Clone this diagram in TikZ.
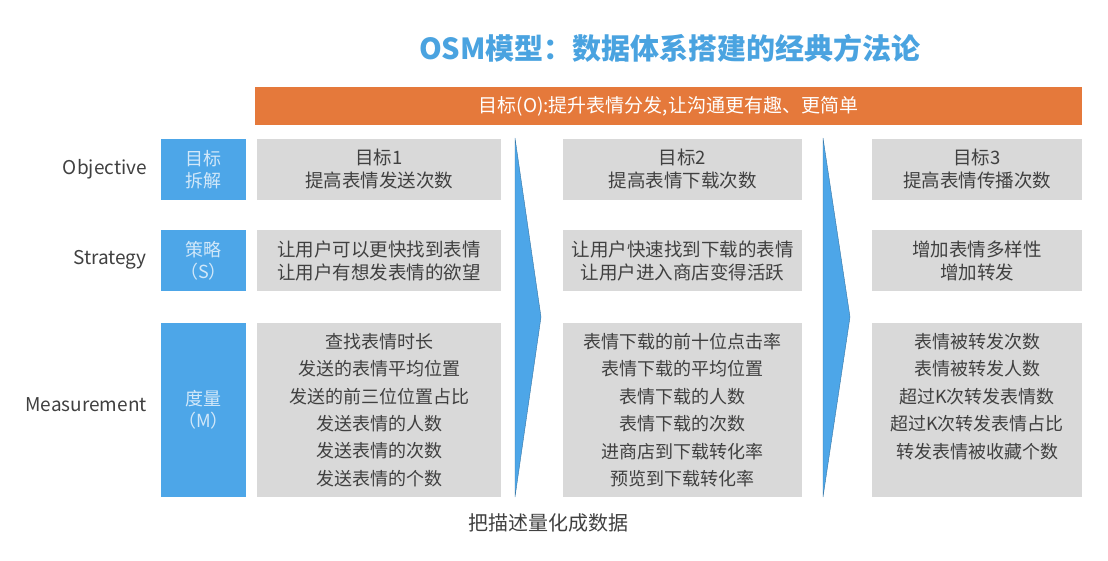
\documentclass[tikz,border=0pt]{standalone}
\usepackage{fontspec}
\setmainfont{Noto Sans CJK SC}
\usetikzlibrary{positioning}

\definecolor{titleblue}{HTML}{4AA3E0}
\definecolor{labelblue}{HTML}{4DA6E8}
\definecolor{paleblue}{HTML}{D2E8F9}
\definecolor{barorange}{HTML}{E5793B}
\definecolor{cellgray}{HTML}{D9D9D9}
\definecolor{textgray}{HTML}{404040}

\begin{document}
\begin{tikzpicture}[x=1pt, y=-1pt,
    sidebox/.style={fill=labelblue, text=paleblue, align=center, inner sep=0pt,
      minimum width=85pt, font=\fontsize{18}{22}\selectfont},
    cell/.style={fill=cellgray, text=textgray, align=center, inner sep=0pt,
      font=\fontsize{18.5}{23}\selectfont},
    mlines/.style={text=textgray, align=center, inner sep=0pt, anchor=north,
      font=\fontsize{18}{27.4}\selectfont},
    rowname/.style={text=textgray, anchor=east, inner sep=0pt,
      font=\fontsize{19}{22}\selectfont},
    flow/.style={fill=labelblue, draw=labelblue!70!black, line width=0.4pt}]
        \useasboundingbox (0,0) rectangle (1108,560);

        \node[text=titleblue, font=\fontsize{29}{34}\selectfont\bfseries] (title) at (670,48) {OSM模型：数据体系搭建的经典方法论};

        \node[fill=barorange, text=white, minimum width=827pt, minimum height=38pt, inner sep=0pt,
          font=\fontsize{19}{22}\selectfont] (goal) at (668.5,106) {目标(O):提升表情分发,让沟通更有趣、更简单};

        % row names
        \node[rowname] (objective) at (147,169) {Objective};
        \node[rowname] (strategy) at (147,260) {Strategy};
        \node[rowname] (measurement) at (147,405) {Measurement};

        % blue labels
        \node[sidebox, minimum height=61pt] (oblabel) at (203.5,169.5) {目标\\拆解};
        \node[sidebox, minimum height=61pt] (stlabel) at (203.5,260.5) {策略\\（S）};
        \node[sidebox, minimum height=174pt] (melabel) at (203.5,410) {度量\\（M）};

        % flow arrows
        \draw[flow] (515,138) -- (541,317) -- (515,497) -- cycle;
        \draw[flow] (823,138) -- (850,317) -- (823,497) -- cycle;

        % column 1
        \node[cell, minimum width=244pt, minimum height=61pt] (ob1) at (379,169.5) {目标1\\提高表情发送次数};
        \node[cell, minimum width=244pt, minimum height=61pt] (st1) at (379,260.5) {让用户可以更快找到表情\\让用户有想发表情的欲望};
        \node[cell, minimum width=244pt, minimum height=174pt] (me1) at (379,410) {};
        \node[mlines] (me1text) at (379,333) {查找表情时长\\发送的表情平均位置\\发送的前三位位置占比\\发送表情的人数\\发送表情的次数\\发送表情的个数};

        % column 2
        \node[cell, minimum width=239pt, minimum height=61pt] (ob2) at (682.5,169.5) {目标2\\提高表情下载次数};
        \node[cell, minimum width=239pt, minimum height=61pt] (st2) at (682.5,260.5) {让用户快速找到下载的表情\\让用户进入商店变得活跃};
        \node[cell, minimum width=239pt, minimum height=174pt] (me2) at (682.5,410) {};
        \node[mlines] (me2text) at (682.5,333) {表情下载的前十位点击率\\表情下载的平均位置\\表情下载的人数\\表情下载的次数\\进商店到下载转化率\\预览到下载转化率};

        % column 3
        \node[cell, minimum width=210pt, minimum height=61pt] (ob3) at (977,169.5) {目标3\\提高表情传播次数};
        \node[cell, minimum width=210pt, minimum height=61pt] (st3) at (977,260.5) {增加表情多样性\\增加转发};
        \node[cell, minimum width=210pt, minimum height=174pt] (me3) at (977,410) {};
        \node[mlines] (me3text) at (977,333) {表情被转发次数\\表情被转发人数\\超过K次转发表情数\\超过K次转发表情占比\\转发表情被收藏个数};

        \node[text=textgray, font=\fontsize{20}{24}\selectfont] (note) at (548,523) {把描述量化成数据};
      \end{tikzpicture}
\end{document}
